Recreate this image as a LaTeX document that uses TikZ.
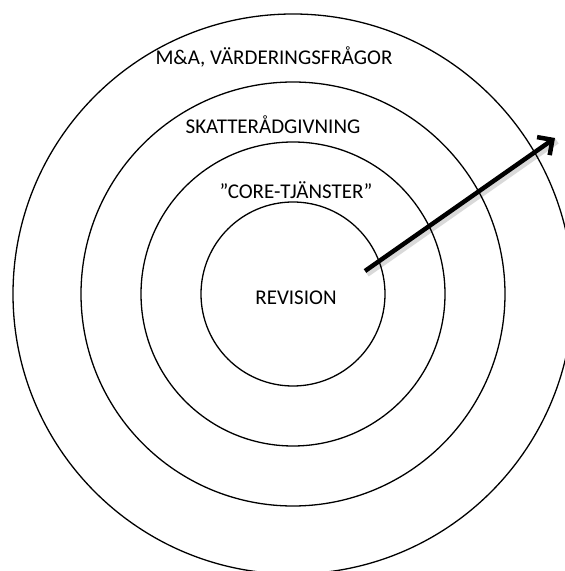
\documentclass[tikz,border=0pt]{standalone}
\usepackage{fontspec}
\setmainfont{Carlito}
\usetikzlibrary{arrows.meta}

\begin{document}
\begin{tikzpicture}[
    x=1pt, y=1pt,
    ring/.style = {draw, circle, line width=1.3pt, inner sep=0pt},
    ringtext/.style = {font=\fontsize{21}{23}\selectfont},
    arrow/.style = {-{Straight Barb[length=11pt, width=22pt]}, line width=4.5pt},
    arrowshade/.style = {line width=6pt, black, opacity=0.15}
]
\useasboundingbox (0,0) rectangle (565,571);

\coordinate (centre) at (293,277);
\node[ring, minimum size=560pt] (outer) at (centre) {};
\node[ring, minimum size=424pt] (tax) at (centre) {};
\node[ring, minimum size=304pt] (core) at (centre) {};
\node[ring, minimum size=184pt] (audit) at (centre) {};

\node[ringtext] (matext) at (274,514) {M\&A, VÄRDERINGSFRÅGOR};
\node[ringtext] (taxtext) at (273,446) {SKATTERÅDGIVNING};
\node[ringtext] (coretext) at (296,381) {”CORE-TJÄNSTER”};
\node[ringtext] (audittext) at (296,273) {REVISION};

% growth arrow
\coordinate (arrowstart) at (365,300);
\coordinate (arrowtip) at (555,433);
\draw[arrowshade] ([shift={(2,-3)}]arrowstart) -- ([shift={(2,-3)}]arrowtip);
\draw[arrow] (arrowstart) -- (arrowtip);

\end{tikzpicture}
\end{document}
